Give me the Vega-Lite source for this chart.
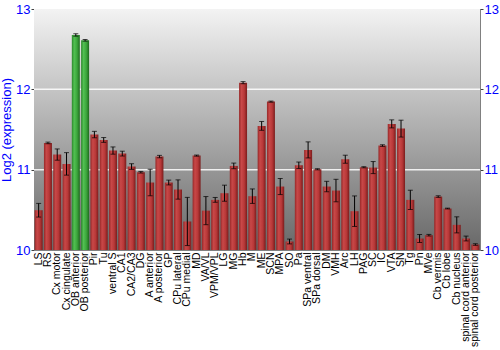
{
  "$schema": "https://vega.github.io/schema/vega-lite/v6.json",
  "width": 446,
  "height": 241,
  "autosize": {"type": "none"},
  "padding": {"left": 34, "top": 9, "right": 20, "bottom": 100},
  "background": "white",
  "config": {
    "font": "Liberation Sans",
    "view": {"stroke": "#808080", "strokeWidth": 1}
  },
  "data": {
    "values": [
      {"region": "LS", "value": 10.495, "lo": 10.41, "hi": 10.58},
      {"region": "RS", "value": 11.333, "lo": 11.323, "hi": 11.343},
      {"region": "Cx motor", "value": 11.188, "lo": 11.118, "hi": 11.258},
      {"region": "Cx cingulate", "value": 11.072, "lo": 10.932, "hi": 11.212},
      {"region": "OB anterior", "value": 12.677, "lo": 12.662, "hi": 12.692},
      {"region": "OB posterior", "value": 12.61, "lo": 12.6, "hi": 12.62},
      {"region": "Pir", "value": 11.437, "lo": 11.397, "hi": 11.477},
      {"region": "Tu", "value": 11.37, "lo": 11.34, "hi": 11.4},
      {"region": "ventral S", "value": 11.238, "lo": 11.193, "hi": 11.283},
      {"region": "CA1", "value": 11.2, "lo": 11.17, "hi": 11.23},
      {"region": "CA2/CA3", "value": 11.039, "lo": 11.004, "hi": 11.074},
      {"region": "DG", "value": 10.968, "lo": 10.958, "hi": 10.978},
      {"region": "A anterior", "value": 10.84, "lo": 10.675, "hi": 11.005},
      {"region": "A posterior", "value": 11.163, "lo": 11.148, "hi": 11.178},
      {"region": "GP", "value": 10.84, "lo": 10.81, "hi": 10.87},
      {"region": "CPu lateral", "value": 10.753, "lo": 10.633, "hi": 10.873},
      {"region": "CPu medial", "value": 10.355, "lo": 10.055, "hi": 10.655},
      {"region": "MD", "value": 11.175, "lo": 11.168, "hi": 11.182},
      {"region": "VA/VL", "value": 10.49, "lo": 10.315, "hi": 10.665},
      {"region": "VPM/VPL", "value": 10.624, "lo": 10.594, "hi": 10.654},
      {"region": "LG", "value": 10.707, "lo": 10.607, "hi": 10.807},
      {"region": "MG", "value": 11.047, "lo": 11.012, "hi": 11.082},
      {"region": "Hb", "value": 12.083, "lo": 12.07, "hi": 12.096},
      {"region": "M", "value": 10.67, "lo": 10.58, "hi": 10.76},
      {"region": "ME", "value": 11.545, "lo": 11.49, "hi": 11.6},
      {"region": "SCN", "value": 11.847, "lo": 11.84, "hi": 11.854},
      {"region": "MPA", "value": 10.79, "lo": 10.69, "hi": 10.89},
      {"region": "SO", "value": 10.106, "lo": 10.076, "hi": 10.136},
      {"region": "Pa", "value": 11.055, "lo": 11.015, "hi": 11.095},
      {"region": "SPa ventral", "value": 11.246, "lo": 11.146, "hi": 11.346},
      {"region": "SPa dorsal", "value": 11.005, "lo": 10.998, "hi": 11.012},
      {"region": "DM", "value": 10.79, "lo": 10.725, "hi": 10.855},
      {"region": "VMH", "value": 10.74, "lo": 10.6, "hi": 10.88},
      {"region": "Arc", "value": 11.13, "lo": 11.08, "hi": 11.18},
      {"region": "LH", "value": 10.483, "lo": 10.293, "hi": 10.673},
      {"region": "PAG", "value": 11.03, "lo": 11.023, "hi": 11.037},
      {"region": "SC", "value": 11.026, "lo": 10.951, "hi": 11.101},
      {"region": "IC", "value": 11.3, "lo": 11.29, "hi": 11.31},
      {"region": "VTA", "value": 11.57, "lo": 11.52, "hi": 11.62},
      {"region": "SN", "value": 11.511, "lo": 11.406, "hi": 11.616},
      {"region": "Tg", "value": 10.624, "lo": 10.504, "hi": 10.744},
      {"region": "Pn", "value": 10.143, "lo": 10.093, "hi": 10.193},
      {"region": "MVe", "value": 10.184, "lo": 10.174, "hi": 10.194},
      {"region": "Cb vermis", "value": 10.665, "lo": 10.655, "hi": 10.675},
      {"region": "Cb lobe", "value": 10.516, "lo": 10.511, "hi": 10.521},
      {"region": "Cb nucleus", "value": 10.313, "lo": 10.213, "hi": 10.413},
      {"region": "spinal cord anterior", "value": 10.143, "lo": 10.113, "hi": 10.173},
      {"region": "spinal cord posterior", "value": 10.068, "lo": 10.058, "hi": 10.078}
    ]
  },
  "encoding": {
    "x": {
      "field": "region", "type": "nominal", "sort": null,
      "scale": {"paddingInner": 0.14, "paddingOuter": 0.07},
      "axis": {"title": null, "labelAngle": -90, "labelFontSize": 10.5, "labelColor": "black",
               "ticks": false, "domain": false, "labelPadding": 2, "labelFont": "Liberation Sans"}
    }
  },
  "layer": [
    {
      "data": {"values": [{"top": 13, "bottom": 10}]},
      "mark": {
        "type": "rect",
        "fill": {"gradient": "linear", "x1": 0, "y1": 0, "x2": 0, "y2": 1,
                 "stops": [{"offset": 0, "color": "#f3f3f3"}, {"offset": 1, "color": "#686868"}]}
      },
      "encoding": {
        "x": {"value": 0},
        "x2": {"value": "width"},
        "y": {"field": "top", "type": "quantitative", "scale": {"domain": [10, 13], "nice": false, "zero": false}, "axis": null},
        "y2": {"field": "bottom"}
      }
    },
    {
      "data": {"values": [{"g": 11}, {"g": 12}]},
      "mark": {"type": "rule", "color": "white", "strokeWidth": 1.5, "opacity": 0.85},
      "encoding": {
        "x": {"value": 0},
        "x2": {"value": "width"},
        "y": {"field": "g", "type": "quantitative", "axis": null}
      }
    },
    {
      "mark": {"type": "bar"},
      "encoding": {
        "y": {
          "field": "value", "type": "quantitative",
          "axis": {
            "title": "Log2 (expression)", "titleColor": "#0000ff", "titleFontSize": 13,
            "titleFontWeight": "normal", "titlePadding": 2, "titleFont": "Liberation Sans",
            "values": [10, 11, 12, 13], "format": "d", "labelColor": "#0000ff", "labelFontSize": 13,
            "labelFont": "Liberation Sans", "labelPadding": 1,
            "grid": false, "domainColor": "#808080", "tickColor": "#404040", "tickSize": 3
          }
        },
        "y2": {"datum": 10},
        "fill": {
          "condition": {
            "test": "datum.region === 'OB anterior' || datum.region === 'OB posterior'",
            "value": {"gradient": "linear", "x1": 0, "y1": 0, "x2": 1, "y2": 0,
                      "stops": [{"offset": 0, "color": "#2c862c"}, {"offset": 0.3, "color": "#52c052"},
                                {"offset": 0.65, "color": "#3ca63c"}, {"offset": 1, "color": "#1e6a1e"}]}
          },
          "value": {"gradient": "linear", "x1": 0, "y1": 0, "x2": 1, "y2": 0,
                    "stops": [{"offset": 0, "color": "#962828"}, {"offset": 0.3, "color": "#c84848"},
                              {"offset": 0.65, "color": "#b83838"}, {"offset": 1, "color": "#7a1c1c"}]}
        }
      }
    },
    {
      "mark": {"type": "rule", "color": "black", "strokeWidth": 1},
      "encoding": {
        "y": {"field": "lo", "type": "quantitative", "axis": null},
        "y2": {"field": "hi"}
      }
    },
    {
      "mark": {"type": "tick", "color": "black", "size": 5, "thickness": 1, "orient": "horizontal"},
      "encoding": {"y": {"field": "lo", "type": "quantitative", "axis": null}}
    },
    {
      "mark": {"type": "tick", "color": "black", "size": 5, "thickness": 1, "orient": "horizontal"},
      "encoding": {"y": {"field": "hi", "type": "quantitative", "axis": null}}
    },
    {
      "data": {"values": [{"v": 10}]},
      "mark": {"type": "point", "opacity": 0},
      "encoding": {
        "x": {"value": 0},
        "y": {
          "field": "v", "type": "quantitative",
          "axis": {
            "orient": "right", "title": null,
            "values": [10, 11, 12, 13], "format": "d", "labelColor": "#0000ff", "labelFontSize": 13,
            "labelFont": "Liberation Sans", "labelPadding": 1,
            "grid": false, "domainColor": "#808080", "tickColor": "#404040", "tickSize": 3
          }
        }
      }
    }
  ],
  "resolve": {"scale": {"y": "shared"}, "axis": {"y": "independent"}}
}
